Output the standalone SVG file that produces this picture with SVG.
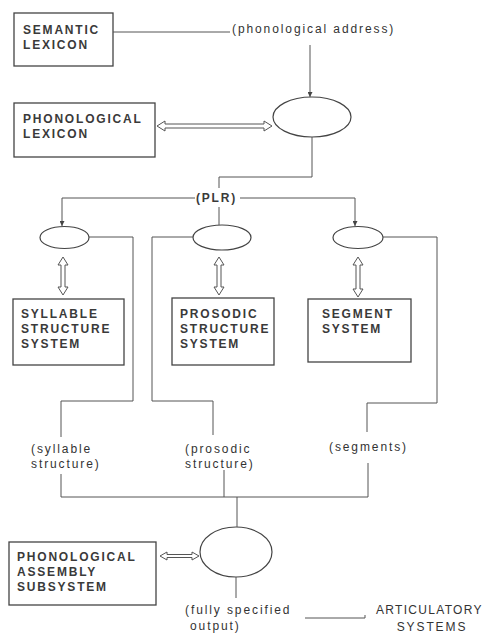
<svg xmlns="http://www.w3.org/2000/svg" width="489" height="634" viewBox="0 0 489 634">
<style>
.box{fill:#fff;stroke:#444;stroke-width:1.3}
.ell{fill:#fff;stroke:#444;stroke-width:1.2}
.ln{fill:none;stroke:#555;stroke-width:1}
.dbl{fill:#fff;stroke:#555;stroke-width:1}
.cap{font-family:"Liberation Sans",Arial,sans-serif;font-size:12px;font-weight:bold;letter-spacing:1.8px;fill:#3a3a3a}
.lab{font-family:"Liberation Sans",Arial,sans-serif;font-size:12px;letter-spacing:1.9px;fill:#333}
</style>
<defs>
<marker id="ah" viewBox="0 0 6 6" refX="6" refY="3" markerWidth="5" markerHeight="5" orient="auto" markerUnits="userSpaceOnUse">
<path d="M0,0 L6,3 L0,6 Z" fill="#444"/>
</marker>
</defs>
<rect width="489" height="634" fill="#fff"/>

<g id="semantic-lexicon">
<rect class="box" x="14" y="13" width="99" height="53"/>
<text class="cap" x="23" y="34">SEMANTIC</text>
<text class="cap" x="23" y="49">LEXICON</text>
</g>

<g id="phonological-lexicon">
<rect class="box" x="14" y="103" width="141" height="54"/>
<text class="cap" x="23" y="123">PHONOLOGICAL</text>
<text class="cap" x="23" y="138">LEXICON</text>
</g>

<g id="lookup-node">
<ellipse class="ell" cx="312" cy="117" rx="39" ry="20"/>
</g>

<g id="plr-label">
<text class="cap" x="196" y="202">(PLR)</text>
</g>

<g id="syllable-node"><ellipse class="ell" cx="64.5" cy="237.5" rx="24.5" ry="11"/></g>
<g id="prosodic-node"><ellipse class="ell" cx="222" cy="237.5" rx="29" ry="12.5"/></g>
<g id="segment-node"><ellipse class="ell" cx="358" cy="237.5" rx="25" ry="11"/></g>

<g id="syllable-structure-system">
<rect class="box" x="13" y="299" width="111" height="66"/>
<text class="cap" x="21" y="318">SYLLABLE</text>
<text class="cap" x="21" y="333">STRUCTURE</text>
<text class="cap" x="21" y="348">SYSTEM</text>
</g>

<g id="prosodic-structure-system">
<rect class="box" x="172" y="298" width="102" height="67"/>
<text class="cap" x="180" y="318">PROSODIC</text>
<text class="cap" x="180" y="333">STRUCTURE</text>
<text class="cap" x="180" y="348">SYSTEM</text>
</g>

<g id="segment-system">
<rect class="box" x="308" y="299" width="103" height="63"/>
<text class="cap" x="322" y="318">SEGMENT</text>
<text class="cap" x="322" y="333">SYSTEM</text>
</g>

<g id="output-labels">
<text class="lab" x="31" y="453">(syllable</text>
<text class="lab" x="31" y="468">structure)</text>
<text class="lab" x="185" y="453">(prosodic</text>
<text class="lab" x="185" y="468">structure)</text>
<text class="lab" x="329" y="451">(segments)</text>
</g>

<g id="assembly-node">
<ellipse class="ell" cx="236" cy="552" rx="36" ry="25"/>
</g>

<g id="phonological-assembly-subsystem">
<rect class="box" x="9" y="542" width="147" height="63"/>
<text class="cap" x="17" y="561">PHONOLOGICAL</text>
<text class="cap" x="17" y="576">ASSEMBLY</text>
<text class="cap" x="17" y="591">SUBSYSTEM</text>
</g>

<g id="output-label">
<text class="lab" x="185" y="614">(fully specified</text>
<text class="lab" x="190" y="630">output)</text>
</g>

<g id="articulatory-systems">
<text class="lab" x="376" y="614" style="letter-spacing:1.3px">ARTICULATORY</text>
<text class="lab" x="432" y="631" text-anchor="middle">SYSTEMS</text>
</g>

<g id="connectors">
<path class="ln" d="M113,32 H230"/>
<text class="lab" x="232" y="33">(phonological address)</text>
<path class="ln" d="M310,45 V97" marker-end="url(#ah)"/>
<polygon class="dbl" points="157,126 165,121 165,124 264,124 264,121 272,126 264,131 264,128 165,128 165,131"/>
<path class="ln" d="M312,137 V177 H219 V188"/>
<path class="ln" d="M195,198 H62 V226" marker-end="url(#ah)"/>
<path class="ln" d="M240,198 H355 V226" marker-end="url(#ah)"/>
<path class="ln" d="M219,207 V225"/>
<polygon class="dbl" points="63,257 68,265 65,265 65,287 68,287 63,295 58,287 61,287 61,265 58,265"/>
<polygon class="dbl" points="219,257 224,265 221,265 221,287 224,287 219,295 214,287 217,287 217,265 214,265"/>
<polygon class="dbl" points="358,257 363,265 360,265 360,289 363,289 358,297 353,289 356,289 356,265 353,265"/>
<path class="ln" d="M89,237 H133 V401 H61 V437"/>
<path class="ln" d="M193,237 H152 V401 H213 V435"/>
<path class="ln" d="M383,237 H437 V403 H367 V432"/>
<path class="ln" d="M61,474 V497 H368 V463"/>
<path class="ln" d="M224,470 V497"/>
<path class="ln" d="M237,497 V527"/>
<polygon class="dbl" points="160,556 167,552 167,554.5 192,554.5 192,552 199,556 192,560 192,557.5 167,557.5 167,560"/>
<path class="ln" d="M236,577 V598"/>
<path class="ln" d="M305,618 H365 V615"/>
</g>
</svg>
